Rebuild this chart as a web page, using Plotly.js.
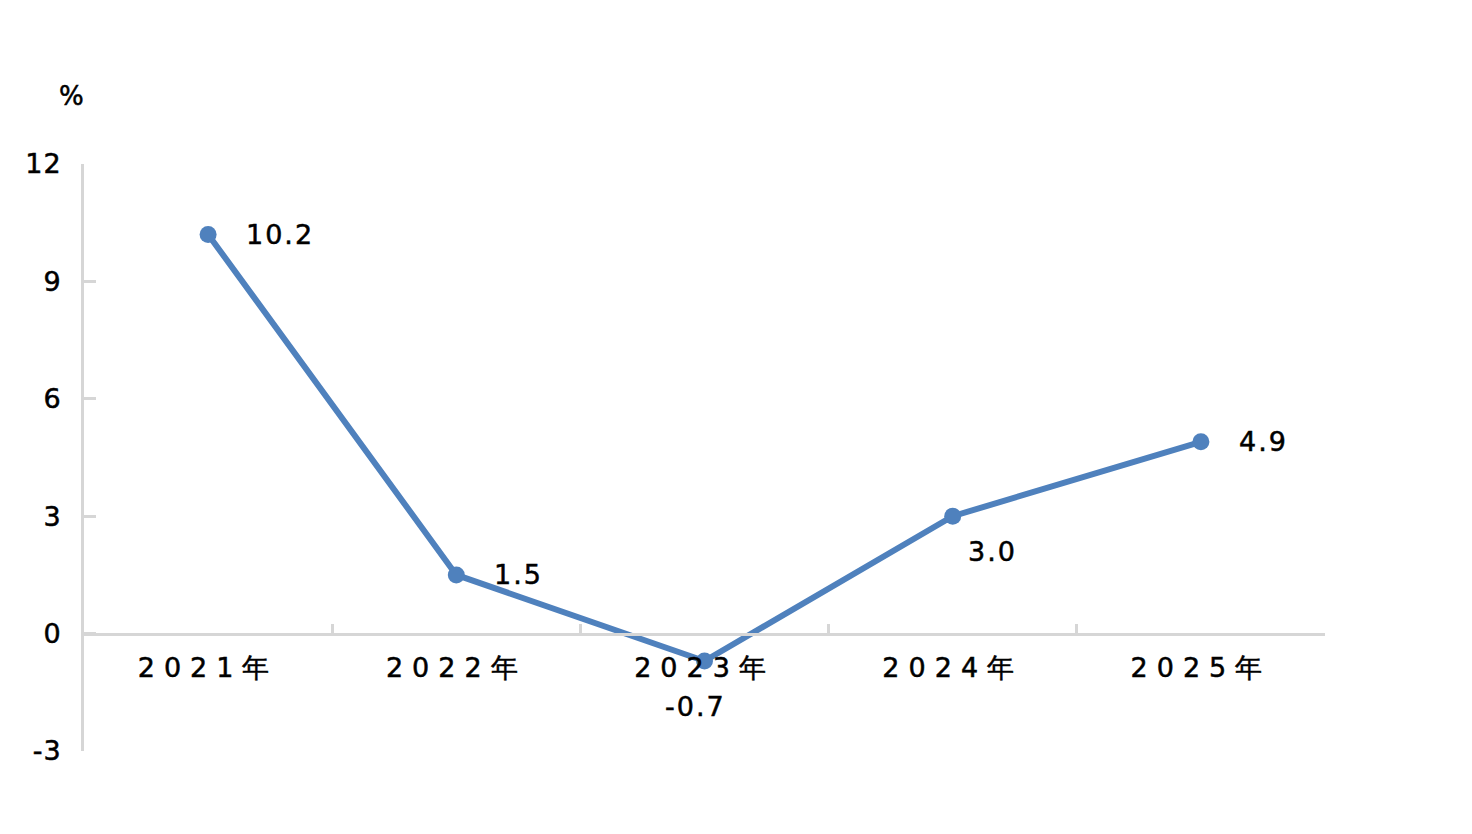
<!DOCTYPE html>
<html>
<head>
<meta charset="utf-8">
<script src="https://cdn.plot.ly/plotly-3.0.1.min.js"></script>
<style>
html,body{margin:0;padding:0;background:#fff;}
#chart{width:1472px;height:834px;}
.xtick text{letter-spacing:9px;}
.ytick text{letter-spacing:1px;}
.annotation-text{letter-spacing:2px;}
.xtick text,.ytick text,.annotation-text{stroke:#000;stroke-width:0.5px;}
</style>
</head>
<body>
<div id="chart"></div>
<script>
// Data
const years = ['2021年', '2022年', '2023年', '2024年', '2025年'];
const growth = [10.2, 1.5, -0.7, 3.0, 4.9];
const yTicks = [-3, 0, 3, 6, 9, 12];
const unitLabel = '%';

// Label placement style (pixel offsets relative to each point)
const labelStyle = [
  {xanchor: 'left', xshift: 36, yshift: 0},
  {xanchor: 'left', xshift: 36, yshift: 0},
  {xanchor: 'center', xshift: -9, yshift: -46},
  {xanchor: 'center', xshift: 40, yshift: -35},
  {xanchor: 'left', xshift: 36, yshift: 0}
];

const lineColor = '#4f81bd';
const font = 'DejaVu Sans, Verdana, sans-serif';
const textColor = '#000';

const trace = {
  x: years,
  y: growth,
  type: 'scatter',
  mode: 'lines+markers',
  line: {color: lineColor, width: 6},
  marker: {color: lineColor, size: 17},
  hoverinfo: 'skip',
  cliponaxis: false
};

const W = 1472, H = 834, L = 84, R = 147, T = 164, B = 83;
const pw = W - L - R, ph = H - T - B;

const annotations = growth.map((v, i) => ({
  x: years[i],
  y: v,
  xref: 'x',
  yref: 'y',
  text: v.toFixed(1),
  showarrow: false,
  xanchor: labelStyle[i].xanchor,
  yanchor: 'middle',
  xshift: labelStyle[i].xshift,
  yshift: labelStyle[i].yshift,
  font: {family: font, size: 27, color: textColor}
}));

annotations.push({
  x: (72 - L) / pw, y: (H - B - 96) / ph, xref: 'paper', yref: 'paper',
  xanchor: 'center', yanchor: 'middle',
  text: unitLabel, showarrow: false,
  font: {family: font, size: 26, color: textColor}
});

const layout = {
  width: W,
  height: H,
  margin: {l: L, r: R, t: T, b: B, pad: 0},
  paper_bgcolor: '#fff',
  plot_bgcolor: '#fff',
  showlegend: false,
  font: {family: font, size: 26, color: textColor},
  xaxis: {
    type: 'category',
    range: [-0.5, years.length - 0.5],
    anchor: 'free',
    position: 0.2,
    showgrid: false,
    zeroline: false,
    showline: true,
    linecolor: '#d6d6d6',
    linewidth: 3,
    ticks: 'inside',
    tickson: 'boundaries',
    ticklen: 9,
    tickwidth: 3,
    tickcolor: '#d6d6d6',
    ticklabelstandoff: 9,
    tickfont: {family: font, size: 27, color: textColor},
    fixedrange: true
  },
  yaxis: {
    range: [-3, 12],
    tickvals: yTicks,
    ticktext: yTicks.map(String),
    showgrid: false,
    zeroline: false,
    showline: true,
    linecolor: '#d6d6d6',
    linewidth: 3,
    ticks: 'inside',
    ticklen: 12,
    tickwidth: 3,
    tickcolor: '#d6d6d6',
    ticklabelstandoff: 14,
    tickfont: {family: font, size: 27, color: textColor},
    fixedrange: true
  },
  annotations: annotations
};

Plotly.newPlot('chart', [trace], layout, {displayModeBar: false, staticPlot: true});
</script>
</body>
</html>
